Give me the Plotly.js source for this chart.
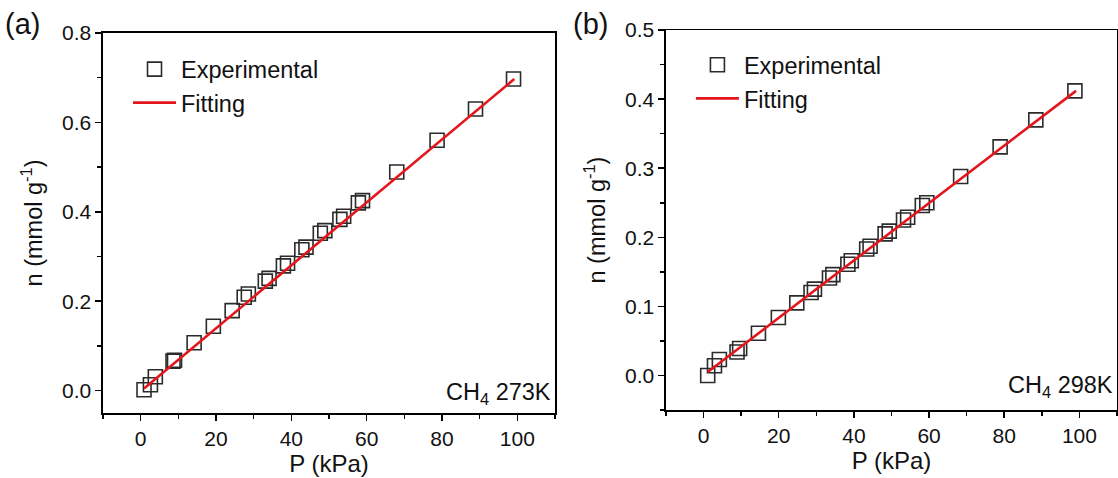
<!DOCTYPE html>
<html>
<head>
<meta charset="utf-8">
<script src="https://cdn.plot.ly/plotly-3.0.1.min.js"></script>
<style>html,body{margin:0;padding:0;background:#fff}#chart{width:1118px;height:478px}</style>
</head>
<body>
<div id="chart"></div>
<script>
// Panel (a): CH4 at 273 K
const pA = [0.9, 2.6, 3.9, 8.6, 9.0, 14.2, 19.3, 24.3, 27.5, 28.6, 33.1, 34.1, 37.9, 39.0, 42.8, 43.9, 47.7, 48.9, 52.9, 53.9, 57.8, 58.9, 68.0, 78.7, 88.9, 99.0];
const nA = [0.002, 0.013, 0.031, 0.066, 0.068, 0.107, 0.144, 0.179, 0.209, 0.216, 0.245, 0.251, 0.279, 0.285, 0.315, 0.321, 0.352, 0.358, 0.383, 0.390, 0.420, 0.425, 0.489, 0.560, 0.630, 0.697];
const fitPA = [0.9, 99.2];
const fitNA = [0.005, 0.697];

// Panel (b): CH4 at 298 K
const pB = [1.1, 2.9, 4.2, 8.9, 9.6, 14.6, 19.9, 24.8, 28.6, 29.5, 33.5, 34.4, 38.4, 39.3, 43.4, 44.3, 48.3, 49.4, 53.2, 54.3, 58.2, 59.4, 68.4, 78.9, 88.4, 98.8];
const nB = [0.000, 0.014, 0.023, 0.034, 0.039, 0.061, 0.084, 0.105, 0.120, 0.125, 0.141, 0.146, 0.161, 0.166, 0.183, 0.187, 0.205, 0.209, 0.225, 0.229, 0.246, 0.250, 0.288, 0.331, 0.370, 0.412];
const fitPB = [1.1, 99.1];
const fitNB = [0.005, 0.412];

const legendNames = ['Experimental', 'Fitting'];
const panelLabels = ['(a)', '(b)'];
const tempLabels = ['CH<sub>4</sub> 273K', 'CH<sub>4</sub> 298K'];
const xTitle = 'P (kPa)';
const yTitle = 'n (mmol g<sup>-1</sup>)';

const FONT = 'Arial, "Liberation Sans", sans-serif';
const markerStyle = {symbol: 'square-open', size: 14, color: '#2b2b2b', line: {width: 1.6}};
const lineStyle = {color: '#e3161d', width: 2.6};

const traces = [
  {x: pA, y: nA, type: 'scatter', mode: 'markers', name: legendNames[0], marker: markerStyle, xaxis: 'x', yaxis: 'y', legend: 'legend'},
  {x: fitPA, y: fitNA, type: 'scatter', mode: 'lines', name: legendNames[1], line: lineStyle, xaxis: 'x', yaxis: 'y', legend: 'legend'},
  {x: pB, y: nB, type: 'scatter', mode: 'markers', name: legendNames[0], marker: markerStyle, xaxis: 'x2', yaxis: 'y2', legend: 'legend2'},
  {x: fitPB, y: fitNB, type: 'scatter', mode: 'lines', name: legendNames[1], line: lineStyle, xaxis: 'x2', yaxis: 'y2', legend: 'legend2'}
];

function xAxis(domain, anchor) {
  return {
    domain: domain, anchor: anchor, range: [-10, 110], dtick: 20, tick0: 0,
    showgrid: false, zeroline: false, showline: true, linecolor: '#000', linewidth: 1.6, mirror: true,
    ticks: 'outside', ticklen: 6, tickwidth: 1.5, tickcolor: '#000',
    minor: {dtick: 10, ticks: 'outside', ticklen: 4, tickwidth: 1.5, tickcolor: '#000'},
    tickfont: {family: FONT, size: 21, color: '#111'},
    title: {text: xTitle, font: {family: FONT, size: 24, color: '#111'}, standoff: 4}
  };
}
function yAxis(domain, anchor, range, dtick) {
  return {
    domain: domain, anchor: anchor, range: range, dtick: dtick, tick0: 0, tickformat: '.1f',
    showgrid: false, zeroline: false, showline: true, linecolor: '#000', linewidth: 1.6, mirror: true,
    ticks: 'outside', ticklen: 6, tickwidth: 1.5, tickcolor: '#000',
    minor: {dtick: dtick / 2, ticks: 'outside', ticklen: 4, tickwidth: 1.5, tickcolor: '#000'},
    tickfont: {family: FONT, size: 21, color: '#111'},
    title: {text: yTitle, font: {family: FONT, size: 23.5, color: '#111'}, standoff: 13}
  };
}

const legendBase = {
  font: {family: FONT, size: 23.5, color: '#111'}, bgcolor: 'rgba(0,0,0,0)', borderwidth: 0,
  xanchor: 'left', yanchor: 'top', tracegroupgap: 0, itemwidth: 43
};

const layout = {
  width: 1118, height: 478,
  margin: {l: 0, r: 0, t: 0, b: 0},
  paper_bgcolor: '#fff', plot_bgcolor: '#fff',
  showlegend: true,
  xaxis: xAxis([0.0921, 0.4964], 'y'),
  yaxis: yAxis([0.136, 0.931], 'x', [-0.05, 0.8], 0.2),
  xaxis2: xAxis([0.5957, 0.9991], 'y2'),
  yaxis2: yAxis([0.1423, 0.937], 'x2', [-0.05, 0.5], 0.1),
  legend: Object.assign({x: 0.1145, y: 0.901}, legendBase),
  legend2: Object.assign({x: 0.618, y: 0.91}, legendBase),
  annotations: [
    {text: panelLabels[0], xref: 'paper', yref: 'paper', x: 0.003, y: 0.988, xanchor: 'left', yanchor: 'top', showarrow: false, font: {family: FONT, size: 29, color: '#111'}},
    {text: panelLabels[1], xref: 'paper', yref: 'paper', x: 0.511, y: 0.988, xanchor: 'left', yanchor: 'top', showarrow: false, font: {family: FONT, size: 29, color: '#111'}},
    {text: tempLabels[0], xref: 'x domain', yref: 'y domain', x: 0.995, y: 0.008, xanchor: 'right', yanchor: 'bottom', showarrow: false, font: {family: FONT, size: 23.5, color: '#111'}},
    {text: tempLabels[1], xref: 'x2 domain', yref: 'y2 domain', x: 0.995, y: 0.018, xanchor: 'right', yanchor: 'bottom', showarrow: false, font: {family: FONT, size: 23.5, color: '#111'}}
  ]
};

Plotly.newPlot('chart', traces, layout, {displayModeBar: false, staticPlot: true});
</script>
</body>
</html>
